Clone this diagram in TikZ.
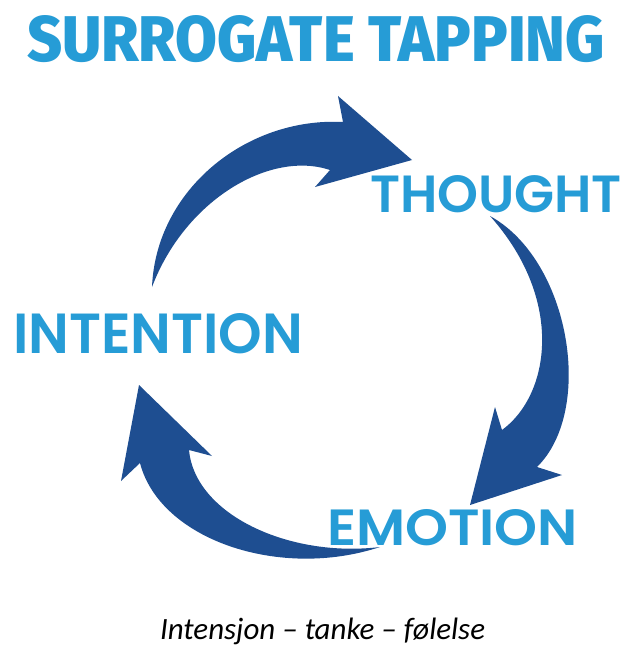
\documentclass[tikz,border=0pt]{standalone}
\usepackage{fontspec}
\usepackage{graphicx}
\setmainfont{Carlito}
\newfontfamily\titlefont{Fira Sans ExtraBold}
\newfontfamily\labelfont{Poppins SemiBold}
\definecolor{arrowblue}{RGB}{30,78,145}
\definecolor{textblue}{RGB}{38,156,214}
\begin{document}
\begin{tikzpicture}[x=1pt,y=-1pt,
  arrowshape/.style={fill=arrowblue, draw=none},
  lbl/.style={text=textblue, inner sep=0pt, outer sep=0pt, anchor=north west},
  captiontext/.style={text=black, inner sep=0pt, outer sep=0pt, anchor=base west}]
\fill[white] (0,0) rectangle (626,647);
\useasboundingbox (0,0) rectangle (626,647);

\node[lbl] (title) at (27,15) {\resizebox{578pt}{46pt}{\titlefont SURROGATE TAPPING}};
\node[lbl] (thought) at (370,175) {\resizebox{252pt}{37pt}{\labelfont THOUGHT}};
\node[lbl] (intention) at (13,313) {\resizebox{290pt}{40pt}{\labelfont INTENTION}};
\node[lbl] (emotion) at (327,509) {\resizebox{251pt}{36pt}{\labelfont EMOTION}};
\node[captiontext] (caption) at (160,639) {\resizebox{325pt}{!}{\itshape Intensjon – tanke – følelse}};

% arrow: intention -> thought
\fill[arrowshape] (152,287) .. controls (156,190) and (246,117) .. (343,122)
  -- (338,96) -- (412,160) -- (315,187) -- (330,170)
  .. controls (270,150) and (185,200) .. (152,287) -- cycle;
% arrow: thought -> emotion
\fill[arrowshape] (490,216) .. controls (570,260) and (595,410) .. (537,467)
  -- (562,475) -- (470,505) -- (495,407) -- (502,430)
  .. controls (550,395) and (565,300) .. (490,216) -- cycle;
% arrow: emotion -> intention
\fill[arrowshape] (380,547) .. controls (280,580) and (160,540) .. (140,463)
  -- (121,481) -- (139,385) -- (212,456) -- (189,450)
  .. controls (195,515) and (290,558) .. (380,547) -- cycle;
\end{tikzpicture}
\end{document}
